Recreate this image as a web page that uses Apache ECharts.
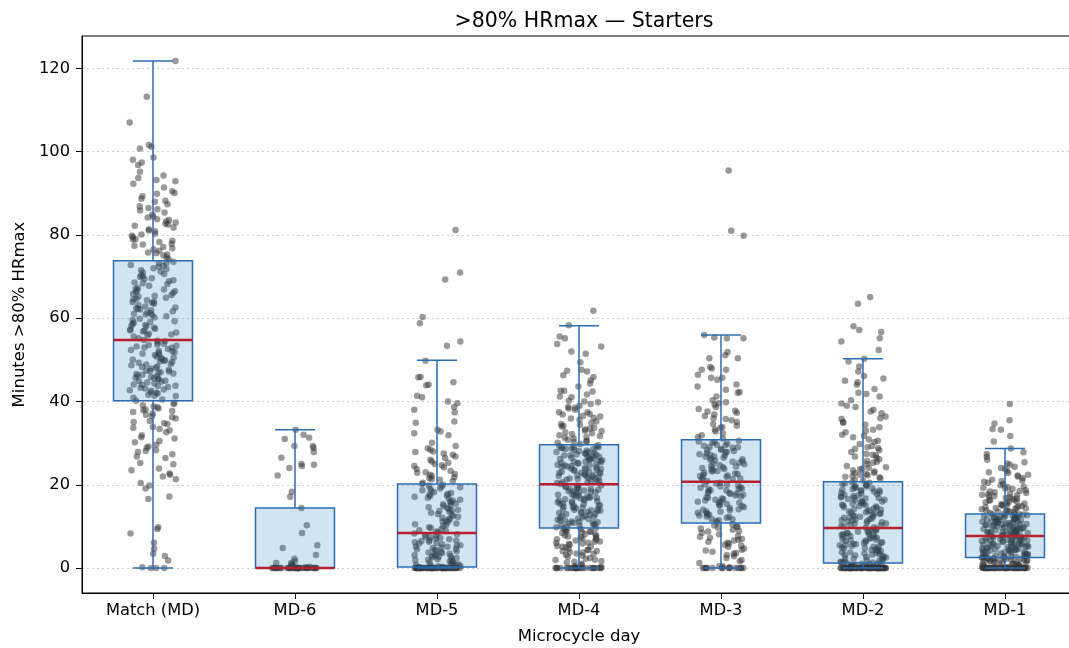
<!DOCTYPE html>
<html><head><meta charset="utf-8">
<script src="https://cdn.jsdelivr.net/npm/echarts@6/dist/echarts.min.js"></script>
<style>html,body{margin:0;padding:0;background:#fff}#c{width:1069px;height:648px}</style>
</head><body><div id="c"></div>
<script>
const categories = ['Match (MD)','MD-6','MD-5','MD-4','MD-3','MD-2','MD-1'];
const yTicks = [0,20,40,60,80,100,120];
const boxMin = [0,0,0,0,0,0,0];
const boxQ1 = [40.2,0,0.25,9.6,10.8,1.2,2.5];
const boxMedian = [54.8,0,8.4,20.1,20.7,9.6,7.7];
const boxQ3 = [73.8,14.4,20.2,29.6,30.8,20.7,13.0];
const boxMax = [121.8,33.2,49.9,58.2,56.0,50.3,28.7];

const ptsMatch = [0,0,0,0.2,1.8,2.9,3.4,4.6,6.1,8.3,9.4,9.8,16.6,17.2,19.1,19.8,20.4,21.3,22.0,22.4,22.7,23.5,23.9,24.9,25.2,26.4,26.8,27.3,27.9,28.1,28.3,28.9,29.2,29.6,30.2,30.5,31.1,31.4,31.9,32.6,33.1,33.4,33.7,33.9,34.6,34.8,35.1,35.3,35.9,36.2,36.5,36.8,37.1,37.5,37.7,37.9,38.1,38.3,38.6,38.8,39.1,39.4,39.7,
40.2,40.5,40.9,41.3,41.4,41.6,41.9,42.2,42.6,42.7,42.9,43.1,43.3,43.5,43.8,44.0,44.1,44.3,44.6,44.8,45.0,45.3,45.4,45.7,45.9,46.1,46.2,46.4,46.7,46.9,47.0,47.2,47.4,47.6,47.9,48.3,48.4,48.7,48.9,49.0,49.3,49.5,49.6,49.9,50.1,50.4,50.6,50.8,51.2,51.3,51.7,51.9,52.1,52.4,52.6,52.9,53.0,53.2,53.4,53.7,53.9,54.2,54.5,54.6,54.8,
55.2,55.6,55.9,56.1,56.3,56.8,57.1,57.3,57.5,57.8,58.0,58.4,58.7,58.9,59.3,59.6,59.9,60.2,60.7,60.9,61.1,61.4,61.7,61.9,62.1,62.3,62.6,62.8,63.2,63.5,63.9,64.0,64.3,64.7,64.9,65.2,65.4,65.6,66.1,66.3,66.5,66.9,67.0,67.3,67.8,68.2,68.6,68.9,69.1,69.4,69.6,69.9,70.1,70.3,70.6,71.2,71.5,71.8,72.0,72.4,72.6,72.8,73.2,73.3,73.6,
74.2,74.6,75.1,75.3,75.6,75.8,76.2,76.5,76.8,77.1,77.4,77.7,77.9,78.3,78.6,78.9,79.0,79.5,79.8,80.1,80.3,80.9,81.1,81.4,81.8,82.2,82.5,82.7,83.0,83.3,83.6,83.8,84.2,84.4,84.9,85.4,85.9,86.2,86.5,86.9,87.4,88.0,88.2,88.7,89.3,89.9,90.1,90.5,91.4,92.3,92.9,93.2,93.7,94.3,95.2,96.8,97.4,98.1,98.6,100.8,101.2,101.6,107.0,113.2,121.8,
42.1,44.9,47.3,50.2,53.6,46.6,49.8,43.7,51.5,45.6,57.0,59.1,62.4,65.8,68.4,71.0,63.7,60.5,66.7,58.2,48.1,52.2,56.6,61.2,64.5];

const ptsMD6 = [0,0,0,0,0,0,0,0,0,0,0,0,0,0,0,0,0,0,0,0,0,0,0,0,0,0,0,0,0,0,0,0,0,0,0,
0.2,0.3,0.5,0.6,0.9,1.2,1.2,1.7,2.2,3.1,4.8,5.5,8.4,10.3,14.4,17.1,18.3,22.2,24.0,24.5,24.8,25.0,26.5,27.9,28.9,29.3,29.3,31.0,31.3,32.0,33.2];

const ptsMD5 = [0,0,0,0,0,0,0,0,0,0,0,0,0,0,0,0,0,0,0,0,0,0,0,0,0,0,0,0,0,0,0,0,0,0,0,0,0,0,0,0,0,0,0,0,0,0,0,0,0,0,0,0,0,0,0,
0.2,0.3,0.4,0.5,0.6,0.7,0.8,0.9,1.0,1.1,1.3,1.4,1.6,1.8,1.9,2.0,2.1,2.3,2.4,2.6,2.7,2.8,2.9,3.0,3.1,3.3,3.4,3.6,3.7,3.9,4.0,4.2,4.4,4.5,4.6,4.8,4.9,5.1,5.2,5.4,5.5,5.7,5.9,6.0,6.2,6.3,6.5,6.6,6.7,6.9,7.1,7.2,7.4,7.5,7.7,7.9,8.1,8.3,
8.6,8.8,8.9,9.1,9.4,9.6,9.8,10.1,10.3,10.5,10.7,11.0,11.2,11.4,11.6,11.9,12.1,12.3,12.5,12.8,13.0,13.3,13.5,13.7,13.9,14.0,14.2,14.4,14.6,14.9,15.1,15.3,15.5,15.8,16.0,16.2,16.4,16.7,16.9,17.1,17.3,17.4,17.6,17.8,18.0,18.2,18.5,18.7,19.0,19.1,19.4,19.6,19.8,20.0,20.2,
20.5,20.9,21.2,21.3,21.6,21.8,22.1,22.4,22.6,22.9,23.0,23.3,23.8,24.2,24.5,24.7,25.0,25.3,25.6,26.0,26.4,26.8,27.2,27.5,27.9,28.0,28.4,28.8,29.3,30.1,31.9,32.4,32.8,33.2,34.9,35.2,37.4,38.0,38.7,39.6,40.0,41.0,41.4,43.9,44.0,44.6,45.8,45.9,49.8,
53.4,54.4,58.8,60.3,69.3,71.0,81.2];

const ptsMD4 = [0,0,0,0,0,0,0,0,0,0,0,0,0,0,0,0,0,0,0,0,0,0,0,0,0,
0.3,0.5,0.8,1.0,1.3,1.5,1.7,1.9,2.0,2.2,2.4,2.7,3.0,3.2,3.4,3.5,3.7,3.8,4.0,4.1,4.3,4.4,4.6,4.9,5.1,5.2,5.3,5.6,5.8,5.9,6.0,6.1,6.3,6.4,6.6,6.8,6.9,7.1,7.2,7.4,7.6,7.7,7.9,8.1,8.2,8.4,8.6,8.7,8.8,8.9,9.0,9.2,9.4,9.5,9.6,
9.8,10.0,10.2,10.3,10.4,10.5,10.7,10.8,10.9,11.0,11.1,11.2,11.4,11.5,11.6,11.8,11.9,12.1,12.2,12.3,12.5,12.6,12.8,12.9,13.0,13.2,13.3,13.4,13.5,13.7,13.8,13.9,14.0,14.1,14.2,14.4,14.5,14.6,14.7,14.9,15.0,15.1,15.3,15.4,15.5,15.6,15.8,16.0,16.1,16.2,16.3,16.5,16.6,16.7,16.8,16.9,17.0,17.1,17.2,17.4,17.5,17.6,17.7,17.9,18.1,18.2,18.3,18.4,18.5,18.6,18.8,18.9,19.0,19.1,19.3,19.4,19.5,19.6,19.8,19.9,
20.2,20.4,20.5,20.7,20.9,21.0,21.2,21.3,21.5,21.6,21.8,22.0,22.1,22.3,22.4,22.6,22.7,22.9,23.1,23.2,23.4,23.5,23.7,23.8,24.0,24.2,24.3,24.5,24.6,24.8,24.9,25.1,25.3,25.4,25.6,25.7,25.9,26.0,26.2,26.4,26.5,26.7,26.8,27.0,27.1,27.3,27.5,27.6,27.8,27.9,28.1,28.2,28.4,28.6,28.7,28.9,29.0,29.2,29.3,29.5,20.6,21.4,22.2,23.0,23.9,24.4,25.2,26.1,26.9,27.7,28.5,29.1,21.9,23.6,25.5,27.2,28.8,22.8,24.7,26.3,
29.8,30.1,30.4,30.8,31.1,31.5,31.9,32.2,32.6,33.0,33.3,33.7,34.1,34.4,34.9,35.2,35.6,36.1,36.4,36.9,37.4,37.4,38.0,38.3,38.7,39.0,39.4,40.0,40.2,41.0,41.2,41.7,42.4,42.6,42.6,43.6,44.3,45.1,45.9,46.3,47.2,47.4,47.6,49.4,51.5,52.0,53.2,53.8,55.2,55.6,58.3,30.6,31.7,32.9,34.6,35.9,37.0,38.5,30.3,32.4,34.0,36.6,39.8,31.3,33.5,
61.8];

const ptsMD3 = [0,0,0,0,0,0,0,0,0,0,0,0,0,0,0.2,0.4,0.5,
1.2,1.6,1.9,2.4,2.8,3.1,3.4,3.6,3.9,4.2,4.4,4.7,5.1,5.4,5.6,5.9,6.1,6.3,6.6,6.8,7.0,7.3,7.5,7.7,8.1,8.5,8.8,8.9,9.2,9.5,9.7,9.9,10.0,10.2,10.5,
11.0,11.3,11.5,11.8,12.1,12.3,12.6,12.8,13.1,13.3,13.6,13.9,14.1,14.4,14.6,14.9,15.2,15.4,15.7,15.9,16.2,16.4,16.7,16.9,17.2,17.4,17.6,17.9,18.1,18.4,18.6,18.9,19.1,19.3,19.6,19.8,20.1,20.3,20.5,11.7,12.9,14.0,15.0,16.0,17.0,18.0,19.0,20.0,13.5,16.5,19.4,12.4,15.6,18.7,17.8,
20.9,21.2,21.4,21.7,21.9,22.2,22.4,22.7,22.9,23.2,23.5,23.7,24.0,24.2,24.5,24.7,25.0,25.3,25.5,25.8,26.0,26.3,26.5,26.8,27.1,27.3,27.6,27.8,28.1,28.3,28.6,28.9,29.1,29.4,29.6,29.9,30.1,30.4,30.6,21.5,22.6,23.8,24.9,26.1,27.2,28.4,29.5,30.3,22.1,24.4,26.7,29.0,23.3,25.6,27.9,
31.1,31.5,31.9,32.4,32.8,33.3,33.7,34.2,34.6,35.1,35.5,36.0,36.5,36.9,37.3,37.8,38.2,38.7,39.2,39.6,39.8,40.3,41.2,42.1,42.3,42.8,43.6,44.1,45.2,45.7,45.7,46.4,47.6,47.6,47.9,48.3,50.4,50.4,51.1,51.9,55.2,55.2,55.4,56.0,33.9,35.8,37.6,
79.8,81.0,95.5];

const ptsMD2 = [0,0,0,0,0,0,0,0,0,0,0,0,0,0,0,0,0,0,0,0,0,0,0,0,0,0,0,0,0,0,0,0,0,0,0,0,0,0,0,0,0,0,0,0,0,0,0,0,0,0,0,0,0,0,0,0,0,0,0,0,0,0,0,0,0,
0.2,0.3,0.3,0.4,0.5,0.5,0.6,0.7,0.8,0.8,0.9,1.0,1.0,1.1,1.2,
1.3,1.4,1.5,1.6,1.8,1.9,2.0,2.1,2.2,2.4,2.5,2.6,2.7,2.9,3.0,3.1,3.2,3.3,3.5,3.6,3.7,3.8,4.0,4.1,4.2,4.3,4.5,4.6,4.7,4.8,5.0,5.1,5.2,5.3,5.5,5.6,5.7,5.8,6.0,6.1,6.2,6.3,6.5,6.6,6.7,6.8,7.0,7.1,7.2,7.3,7.5,7.6,7.7,7.8,8.0,8.1,8.2,8.3,8.5,8.6,8.7,8.8,9.0,9.1,9.2,9.4,
9.7,9.8,10.0,10.1,10.3,10.4,10.6,10.7,10.9,11.0,11.2,11.3,11.5,11.6,11.8,11.9,12.1,12.2,12.4,12.5,12.7,12.8,13.0,13.1,13.3,13.4,13.6,13.7,13.9,14.0,14.2,14.3,14.5,14.6,14.8,14.9,15.1,15.2,15.4,15.5,15.7,15.8,16.0,16.1,16.3,16.4,16.6,16.7,16.9,17.0,17.2,17.3,17.5,17.6,17.8,17.9,18.1,18.2,18.4,18.5,18.7,18.8,19.0,19.1,19.3,19.4,19.6,19.7,19.9,20.0,20.2,20.3,20.5,20.6,11.4,13.2,15.0,16.8,18.6,12.3,
21.0,21.2,21.5,21.8,22.1,22.3,22.6,22.9,23.2,23.5,23.9,24.2,24.5,24.9,25.3,25.7,26.1,26.5,27.0,27.4,27.9,28.3,28.8,29.3,29.8,30.3,30.9,31.4,32.0,32.6,33.2,33.8,34.4,35.1,35.8,36.4,37.2,38.0,38.7,39.5,40.3,41.2,42.1,43.0,44.0,45.0,46.1,47.2,48.4,49.6,50.3,21.9,22.8,24.0,25.5,27.2,29.0,30.6,33.0,36.0,39.0,41.8,44.6,22.4,23.7,26.8,28.6,31.8,34.9,37.6,45.5,
52.4,54.4,55.2,56.7,57.2,58.1,63.5,65.1];

const ptsMD1 = [0,0,0,0,0,0,0,0,0,0,0,0,0,0,0,0,0,0,0,0,0,0,0,0,0,0,0,0,0,0,0,0,0,0,0,0,0,0,0,0,0,0,0,0,0,
0.1,0.2,0.3,0.3,0.4,0.5,0.6,0.6,0.7,0.8,0.9,1.0,1.0,1.1,1.2,1.3,1.4,1.4,1.5,1.6,1.7,1.8,1.8,1.9,2.0,2.0,2.1,2.2,2.2,2.3,2.3,2.4,2.4,2.5,2.5,
2.6,2.7,2.7,2.8,2.9,3.0,3.0,3.1,3.2,3.3,3.3,3.4,3.5,3.6,3.6,3.7,3.8,3.9,3.9,4.0,4.1,4.2,4.2,4.3,4.4,4.5,4.5,4.6,4.7,4.8,4.8,4.9,5.0,5.1,5.1,5.2,5.3,5.4,5.4,5.5,5.6,5.7,5.7,5.8,5.9,6.0,6.0,6.1,6.2,6.3,6.3,6.4,6.5,6.6,6.6,6.7,6.8,6.9,6.9,7.0,7.1,7.2,7.2,7.3,7.4,7.5,7.5,7.6,7.6,7.7,
7.8,7.9,7.9,8.0,8.1,8.1,8.2,8.3,8.3,8.4,8.5,8.6,8.6,8.7,8.8,8.8,8.9,9.0,9.1,9.1,9.2,9.3,9.3,9.4,9.5,9.6,9.6,9.7,9.8,9.8,9.9,10.0,10.1,10.1,10.2,10.3,10.3,10.4,10.5,10.6,10.6,10.7,10.8,10.8,10.9,11.0,11.1,11.1,11.2,11.3,11.3,11.4,11.5,11.6,11.6,11.7,11.8,11.8,11.9,12.0,12.1,12.1,12.2,12.3,12.3,12.4,12.5,12.6,12.6,12.7,12.8,12.8,12.9,13.0,13.0,
13.2,13.4,13.5,13.7,13.9,14.1,14.3,14.4,14.6,14.8,15.0,15.2,15.4,15.6,15.8,16.0,16.2,16.4,16.6,16.8,17.0,17.3,17.5,17.7,18.0,18.2,18.5,18.7,19.0,19.3,19.6,19.9,20.2,20.5,20.9,21.2,21.6,22.0,22.4,22.8,23.3,23.8,24.3,24.8,25.4,26.0,26.7,27.4,27.8,28.7,13.6,14.2,15.1,15.9,16.7,17.6,18.4,19.4,20.7,22.2,24.0,13.8,14.9,16.3,17.9,19.1,21.0,23.0,25.1,14.5,15.5,17.2,
30.4,31.7,33.2,33.4,34.7,35.5,39.4];

const pointLists = [ptsMatch, ptsMD6, ptsMD5, ptsMD4, ptsMD3, ptsMD2, ptsMD1];

// horizontal jitter (layout only): hashed offsets within ±0.165 of a category band
function jitter(i, c) {
  const s = Math.sin((i + 1) * 12.9898 + (c + 1) * 78.233) * 43758.5453;
  const u = s - Math.floor(s);
  return (u - 0.5) * 0.33;
}
const scatterData = [];
pointLists.forEach((arr, c) => arr.forEach((v, i) => scatterData.push([c + jitter(i, c), v])));
const boxData = categories.map((_, i) => [i, boxMin[i], boxQ1[i], boxMedian[i], boxQ3[i], boxMax[i]]);

const FONT = 'DejaVu Sans';
const BLUE = '#2a6db2', RED = '#b3202f';
const chart = echarts.init(document.getElementById('c'), null, {renderer: 'canvas'});
chart.setOption({
  animation: false,
  backgroundColor: '#fff',
  title: {
    text: '>80% HRmax \u2014 Starters',
    left: 579, top: 6, textAlign: 'center',
    textStyle: {fontFamily: FONT, fontSize: 20.5, fontWeight: 'normal', color: '#000'}
  },
  grid: {left: 82, top: 36, width: 994, height: 557, show: true, borderColor: '#000', borderWidth: 1,
    backgroundColor: 'transparent', containLabel: false, outerBoundsMode: 'none'},
  xAxis: [{
    type: 'category', data: categories, boundaryGap: true,
    name: 'Microcycle day', nameLocation: 'middle', nameGap: 35,
    nameTextStyle: {fontFamily: FONT, fontSize: 16.5, color: '#000'},
    axisLine: {show: true, onZero: false, lineStyle: {color: '#000', width: 1}},
    axisTick: {show: true, alignWithLabel: true, length: 6, lineStyle: {color: '#000', width: 1}},
    axisLabel: {fontFamily: FONT, fontSize: 16.3, color: '#000', margin: 10},
    splitLine: {show: false}
  }, {
    type: 'value', min: -0.5, max: 6.5, show: false,
    axisLine: {show: false, onZero: false}, splitLine: {show: false}
  }],
  yAxis: {
    type: 'value', min: -6.0, max: 127.8,
    name: 'Minutes >80% HRmax', nameLocation: 'middle', nameGap: 42,
    nameTextStyle: {fontFamily: FONT, fontSize: 16.5, color: '#000'},
    axisLine: {show: true, onZero: false, lineStyle: {color: '#000', width: 1}},
    axisTick: {show: true, length: 6, customValues: yTicks, lineStyle: {color: '#000', width: 1}},
    axisLabel: {fontFamily: FONT, fontSize: 16.3, color: '#000', margin: 12, customValues: yTicks},
    splitLine: {show: true, lineStyle: {color: '#cccccc', type: [2, 3], width: 1}}
  },
  series: [{
    type: 'scatter', xAxisIndex: 1, yAxisIndex: 0, z: 2,
    data: scatterData, symbolSize: 6.5, symbol: 'circle',
    itemStyle: {color: '#333333', opacity: 0.5, borderWidth: 0},
    emphasis: {disabled: true}, silent: true
  }, {
    type: 'custom', xAxisIndex: 0, yAxisIndex: 0, z: 3,
    data: boxData, encode: {x: 0, y: [1, 2, 3, 4, 5]}, silent: true,
    renderItem: function (params, api) {
      const i = api.value(0);
      const pMin = api.coord([i, api.value(1)]);
      const pQ1 = api.coord([i, api.value(2)]);
      const pMed = api.coord([i, api.value(3)]);
      const pQ3 = api.coord([i, api.value(4)]);
      const pMax = api.coord([i, api.value(5)]);
      const bw = api.size([1, 0])[0];
      const hw = bw * 0.278, cw = bw * 0.141, x = pMed[0];
      const ls = {stroke: BLUE, lineWidth: 1.5};
      return {type: 'group', children: [
        {type: 'line', shape: {x1: x, y1: pQ1[1], x2: x, y2: pMin[1]}, style: ls},
        {type: 'line', shape: {x1: x, y1: pQ3[1], x2: x, y2: pMax[1]}, style: ls},
        {type: 'line', shape: {x1: x - cw, y1: pMin[1], x2: x + cw, y2: pMin[1]}, style: ls},
        {type: 'line', shape: {x1: x - cw, y1: pMax[1], x2: x + cw, y2: pMax[1]}, style: ls},
        {type: 'rect', shape: {x: x - hw, y: pQ3[1], width: 2 * hw, height: pQ1[1] - pQ3[1]},
          style: {fill: 'rgba(31,119,180,0.2)', stroke: BLUE, lineWidth: 1.5}},
        {type: 'line', shape: {x1: x - hw, y1: pMed[1], x2: x + hw, y2: pMed[1]}, style: {stroke: RED, lineWidth: 2.5}}
      ]};
    }
  }]
});
</script></body></html>
